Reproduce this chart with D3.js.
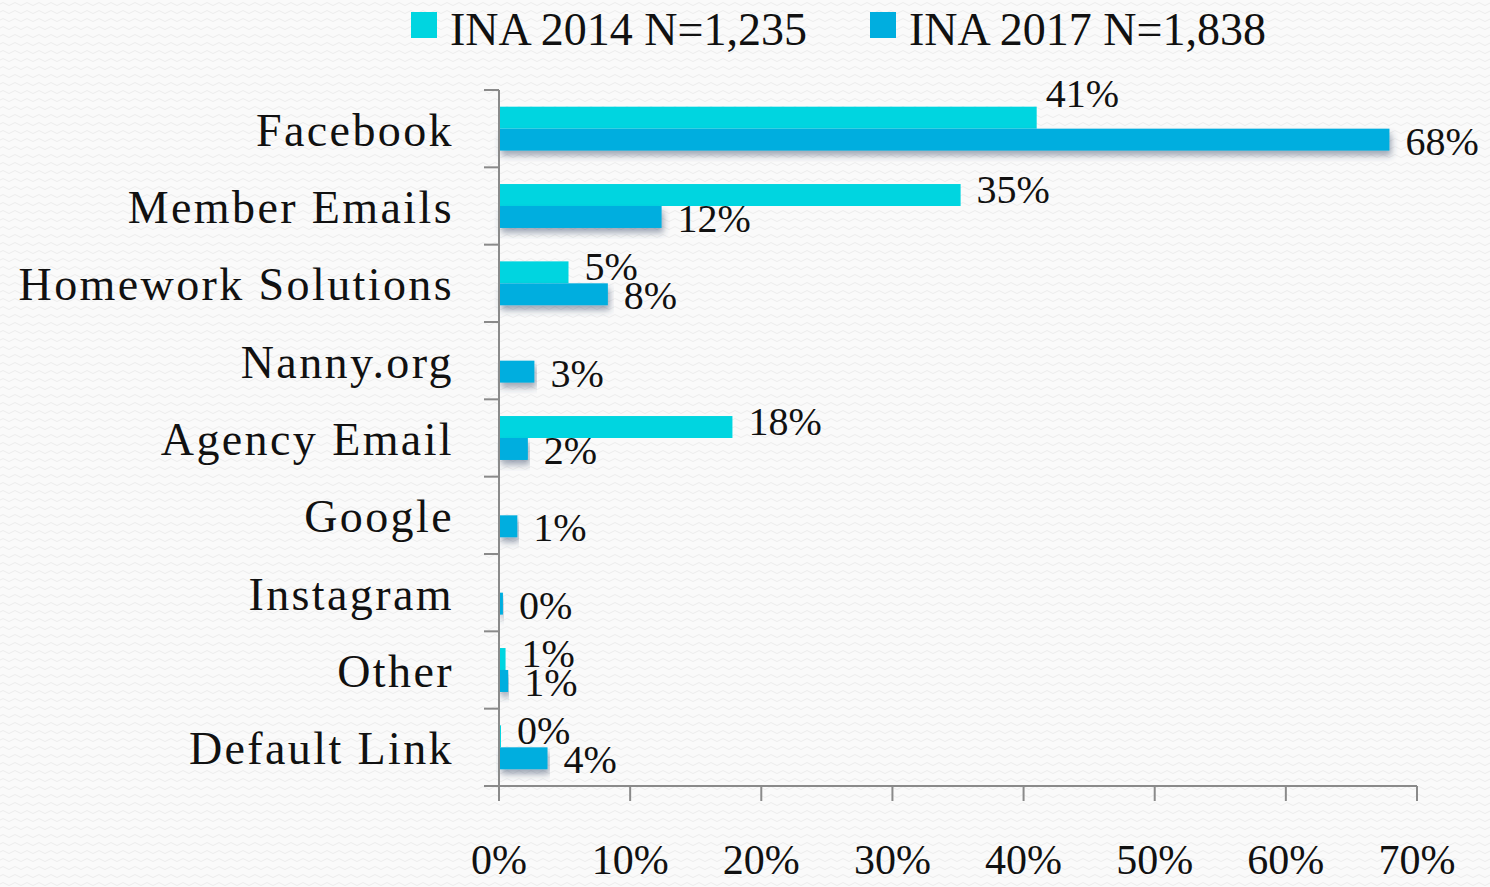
<!DOCTYPE html>
<html>
<head>
<meta charset="utf-8">
<script src="https://cdn.jsdelivr.net/npm/d3@7"></script>
<style>
  body { margin: 0; background: #fafafa; }
  text { font-family: "Liberation Serif", "DejaVu Serif", serif; fill: #111; }
</style>
</head>
<body>
<div id="chart"></div>
<script>
// categories top to bottom
var categories = ["Facebook", "Member Emails", "Homework Solutions", "Nanny.org",
  "Agency Email", "Google", "Instagram", "Other", "Default Link"];
var series = ["INA 2014 N=1,235", "INA 2017 N=1,838"];
// values in percent
var ina2014 = [41, 35.2, 5.3, 0, 17.8, 0, 0, 0.5, 0.15];
var ina2017 = [67.9, 12.4, 8.3, 2.7, 2.2, 1.4, 0.3, 0.7, 3.7];
var labels2014 = ["41%", "35%", "5%", null, "18%", null, null, "1%", "0%"];
var labels2017 = ["68%", "12%", "8%", "3%", "2%", "1%", "0%", "1%", "4%"];
var xTicks = [0, 10, 20, 30, 40, 50, 60, 70];

function Barchart() {
  var w = 1490;
  var h = 887;
  var colors = ["#00d5e0", "#00aedf"];

  var svg = d3.select("#chart").append("svg")
    .attr("width", w)
    .attr("height", h);

  // faint wavy background texture
  var defs = svg.append("defs");
  var pat = defs.append("pattern")
    .attr("id", "wave")
    .attr("width", 12).attr("height", 8)
    .attr("patternUnits", "userSpaceOnUse");
  pat.append("path")
    .attr("d", "M0 4 Q3 1 6 4 T12 4")
    .attr("fill", "none")
    .attr("stroke", "#ececec")
    .attr("stroke-width", 1);
  var shadow = defs.append("filter").attr("id", "shadow")
    .attr("x", "-5%").attr("y", "-30%").attr("width", "110%").attr("height", "180%");
  shadow.append("feDropShadow")
    .attr("dx", 2).attr("dy", 5).attr("stdDeviation", 3)
    .attr("flood-color", "#334466").attr("flood-opacity", 0.45);

  svg.append("rect").attr("width", w).attr("height", h).attr("fill", "url(#wave)");

  var xScale = d3.scaleLinear().domain([0, 70]).range([499, 1417]);
  var yScale = d3.scaleBand().domain(categories).range([90, 786]);
  var subScale = d3.scaleBand().domain(series)
    .range([0, yScale.bandwidth()])
    .paddingOuter(0.76);

  var rows = categories.map(function (c, i) {
    return [
      { cat: c, s: series[0], v: ina2014[i], label: labels2014[i] },
      { cat: c, s: series[1], v: ina2017[i], label: labels2017[i] }
    ];
  });

  // bars
  var groups = svg.selectAll("g.row")
    .data(rows)
    .enter()
    .append("g")
    .attr("class", "row")
    .attr("transform", function (d) {
      return "translate(0," + yScale(d[0].cat) + ")";
    });

  groups.selectAll("rect")
    .data(function (d) { return d.filter(function (e) { return e.v > 0; }); })
    .enter()
    .append("rect")
    .attr("x", xScale(0))
    .attr("y", function (d) { return subScale(d.s); })
    .attr("width", function (d) { return xScale(d.v) - xScale(0); })
    .attr("height", subScale.bandwidth())
    .attr("fill", function (d) { return colors[series.indexOf(d.s)]; })
    .attr("filter", function (d) { return d.s === series[1] ? "url(#shadow)" : null; });

  // value labels
  groups.selectAll("text.val")
    .data(function (d) { return d.filter(function (e) { return e.label; }); })
    .enter()
    .append("text")
    .attr("class", "val")
    .attr("x", function (d) {
      // the Facebook 2014 label sits tighter and higher in the original
      return xScale(d.v) + (d.cat === "Facebook" && d.s === series[0] ? 9 : 16);
    })
    .attr("y", function (d) {
      var y = subScale(d.s) + subScale.bandwidth() / 2 + 15;
      if (d.s === series[0]) y -= 7;
      if (d.cat === "Facebook" && d.s === series[0]) y -= 19;
      return y;
    })
    .attr("font-size", 40)
    .text(function (d) { return d.label; });

  // axes
  var axisColor = "#8a8a8a";
  svg.append("line")
    .attr("x1", xScale(0)).attr("x2", xScale(0))
    .attr("y1", 90).attr("y2", 786)
    .attr("stroke", axisColor).attr("stroke-width", 2);
  svg.append("line")
    .attr("x1", 484).attr("x2", xScale(70))
    .attr("y1", 786).attr("y2", 786)
    .attr("stroke", axisColor).attr("stroke-width", 2);

  var bounds = categories.map(function (c) { return yScale(c); });
  bounds.push(yScale.range()[1]);
  svg.selectAll("line.ytick")
    .data(bounds)
    .enter()
    .append("line")
    .attr("x1", 484).attr("x2", xScale(0))
    .attr("y1", function (d) { return d; })
    .attr("y2", function (d) { return d; })
    .attr("stroke", axisColor).attr("stroke-width", 2);

  svg.selectAll("line.xtick")
    .data(xTicks)
    .enter()
    .append("line")
    .attr("x1", function (d) { return xScale(d); })
    .attr("x2", function (d) { return xScale(d); })
    .attr("y1", 786).attr("y2", 801)
    .attr("stroke", axisColor).attr("stroke-width", 2);

  svg.selectAll("text.xlab")
    .data(xTicks)
    .enter()
    .append("text")
    .attr("x", function (d) { return xScale(d); })
    .attr("y", 874)
    .attr("text-anchor", "middle")
    .attr("font-size", 42)
    .text(function (d) { return d + "%"; });

  svg.selectAll("text.cat")
    .data(categories)
    .enter()
    .append("text")
    .attr("x", 454)
    .attr("y", function (d) { return yScale(d) + yScale.bandwidth() / 2 + 17; })
    .attr("text-anchor", "end")
    .attr("font-size", 46)
    .attr("letter-spacing", 2.4)
    .text(function (d) { return d; });

  // legend
  var legendX = [411, 870];
  series.forEach(function (s, i) {
    svg.append("rect")
      .attr("x", legendX[i]).attr("y", 12)
      .attr("width", 26).attr("height", 26)
      .attr("fill", colors[i]);
    svg.append("text")
      .attr("x", legendX[i] + 39).attr("y", 45)
      .attr("font-size", 46)
      .text(s);
  });
}
window.onload = Barchart;
</script>
</body>
</html>
